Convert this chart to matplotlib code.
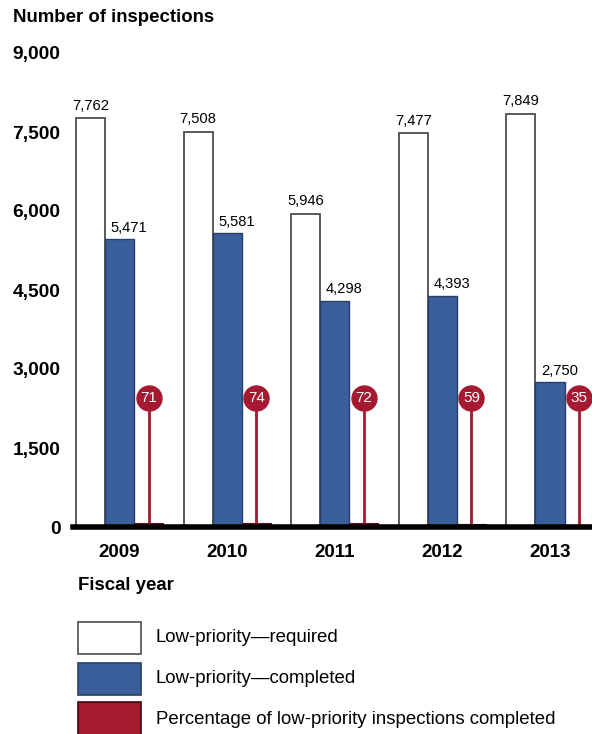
import matplotlib
matplotlib.use("Agg")
import matplotlib.pyplot as plt
from matplotlib.patches import Rectangle

plt.rcParams['font.family'] = ['Liberation Sans', 'DejaVu Sans']

years = ["2009", "2010", "2011", "2012", "2013"]
required = [7762, 7508, 5946, 7477, 7849]
completed = [5471, 5581, 4298, 4393, 2750]
pct_completed = [71, 74, 72, 59, 35]

WHITE = "#FFFFFF"
BLUE = "#3A5F9B"
RED = "#A51A30"
EDGE = "#4D4D4D"

W, H = 592, 734
fig = plt.figure(figsize=(W / 100, H / 100), dpi=100)

ax_left = 73 / W
ax_bottom = (H - 527) / H
ax_top = (H - 53) / H
ax = fig.add_axes([ax_left, ax_bottom, 1 - ax_left, ax_top - ax_bottom])

x = list(range(len(years)))
bw = 0.27
xr = [i - bw for i in x]
xc = x
xp = [i + bw for i in x]

ax.bar(xr, required, width=bw, color=WHITE, edgecolor=EDGE, linewidth=1.3, zorder=2)
ax.bar(xc, completed, width=bw, color=BLUE, edgecolor="#2a3f66", linewidth=1.0, zorder=2)
ax.bar(xp, pct_completed, width=bw, color=RED, edgecolor="#5a0f1a", linewidth=0.8, zorder=2)

lolli_y = 2450
for xi, p in zip(xp, pct_completed):
    ax.plot([xi, xi], [p, lolli_y], color=RED, linewidth=2.0, zorder=3, solid_capstyle='butt')
    ax.plot([xi], [lolli_y], marker='o', markersize=18, color=RED, markeredgecolor=RED, zorder=4)
    ax.text(xi, lolli_y, str(p), color="white", fontsize=11, ha='center', va='center', zorder=5)

for xi, v in zip(xr, required):
    ax.annotate(f"{v:,}", (xi, v), xytext=(0, 4), textcoords='offset points',
                ha='center', va='bottom', fontsize=10.6, zorder=5)
for xi, v in zip(xc, completed):
    ax.annotate(f"{v:,}", (xi, v), xytext=(7, 3), textcoords='offset points',
                ha='center', va='bottom', fontsize=10.6, zorder=5,
                bbox=dict(boxstyle='square,pad=0.15', fc='white', ec='none'))

ax.set_ylim(0, 9000)
ax.set_xlim(-0.432, 4.39)
ax.set_yticks([0, 1500, 3000, 4500, 6000, 7500, 9000])
ax.set_yticklabels(["0", "1,500", "3,000", "4,500", "6,000", "7,500", "9,000"],
                   fontweight='bold', fontsize=13.8)
ax.set_xticks(x)
ax.set_xticklabels(years, fontweight='bold', fontsize=13.5)
ax.tick_params(axis='y', length=0, pad=9)
ax.tick_params(axis='x', length=0, pad=12)
for s in ['left', 'right', 'top']:
    ax.spines[s].set_visible(False)
ax.spines['bottom'].set_linewidth(4)
ax.spines['bottom'].set_color('black')
ax.spines['bottom'].set_zorder(6)
ax.set_facecolor('none')

fig.text(13 / W, 1 - 17 / H, "Number of inspections", fontweight='bold', fontsize=13.4,
         ha='left', va='center')
fig.text(78 / W, 1 - 585 / H, "Fiscal year", fontweight='bold', fontsize=13.4,
         ha='left', va='center')

legend_items = [("Low-priority\u2014required", WHITE, EDGE, 621.5, 654),
                ("Low-priority\u2014completed", BLUE, "#2a3f66", 662.5, 695),
                ("Percentage of low-priority inspections completed", RED, "#3a0a12", 702, 742)]
for label, fc, ec, y0, y1 in legend_items:
    fig.patches.append(Rectangle((77.5 / W, 1 - y1 / H), (141 - 77.5) / W, (y1 - y0) / H,
                                 transform=fig.transFigure, facecolor=fc, edgecolor=ec,
                                 linewidth=1.2, figure=fig))
    fig.text(156 / W, 1 - (y0 + min(y1, 736)) / 2 / H, label, fontsize=13.4,
             ha='left', va='center')

fig.savefig("out.png", dpi=100)
